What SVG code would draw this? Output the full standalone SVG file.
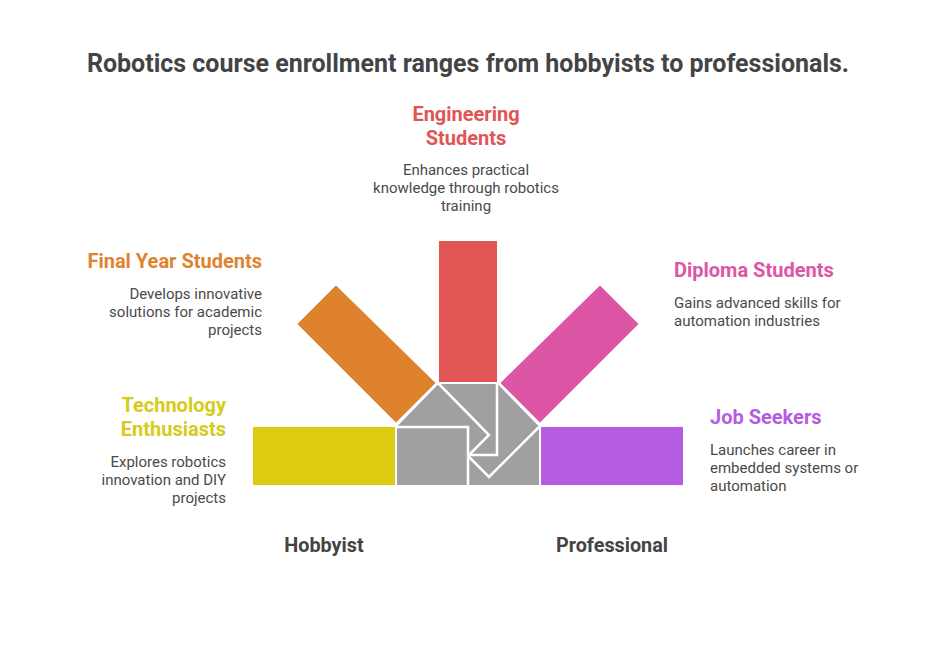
<svg xmlns="http://www.w3.org/2000/svg" width="936" height="648" viewBox="0 0 936 648">
<style>
.t{font-family:Roboto,"Liberation Sans",sans-serif;font-weight:700;fill:#444}
.h{font-family:Roboto,"Liberation Sans",sans-serif;font-weight:700;font-size:20px}
.d{font-family:Roboto,"Liberation Sans",sans-serif;font-size:15px;fill:#4a4a4a}
.s{stroke:#fff;stroke-width:2;stroke-linejoin:miter}
.ln{fill:none;stroke:#fff;stroke-width:2.5}
</style>
<rect width="936" height="648" fill="#fff"/>
<text class="t" x="468" y="72" font-size="25" text-anchor="middle">Robotics course enrollment ranges from hobbyists to professionals.</text>
<g id="hub">
<polygon class="s" fill="#a0a0a0" points="396,426 438,383 498,383 540,426 540,486 396,486"/>
<g id="connectors">
<polyline class="ln" points="396,427 468,427 468,486"/>
<polyline class="ln" points="497,383 497,455 469,455"/>
<polyline class="ln" points="438,383 489,435 468,456"/>
<polyline class="ln" points="540,426 489,477 468,456"/>
</g>
</g>
<g id="technology">
<rect class="s" x="252" y="426" width="144" height="60" fill="#ddcb12"/>
<text class="h" fill="#d6cb1c" text-anchor="end"><tspan x="226" y="412">Technology</tspan><tspan x="226" y="436">Enthusiasts</tspan></text>
<text class="d" text-anchor="end"><tspan x="226" y="467">Explores robotics</tspan><tspan x="226" y="485">innovation and DIY</tspan><tspan x="226" y="503">projects</tspan></text>
</g>
<g id="finalyear">
<polygon class="s" fill="#de822e" points="336,284 296,324 396,424 437,383"/>
<text class="h" fill="#de8431" text-anchor="end" x="262" y="268">Final Year Students</text>
<text class="d" text-anchor="end"><tspan x="262" y="299">Develops innovative</tspan><tspan x="262" y="317">solutions for academic</tspan><tspan x="262" y="335">projects</tspan></text>
</g>
<g id="engineering">
<rect class="s" x="438" y="240" width="60" height="143" fill="#e25555"/>
<text class="h" fill="#e05555" text-anchor="middle"><tspan x="466" y="121">Engineering</tspan><tspan x="466" y="145">Students</tspan></text>
<text class="d" text-anchor="middle"><tspan x="466" y="175">Enhances practical</tspan><tspan x="466" y="193">knowledge through robotics</tspan><tspan x="466" y="211">training</tspan></text>
</g>
<g id="diploma">
<polygon class="s" fill="#dd56a5" points="600,284 640,324 540,424 499,383"/>
<text class="h" fill="#dd55a5" x="674" y="277">Diploma Students</text>
<text class="d"><tspan x="674" y="308">Gains advanced skills for</tspan><tspan x="674" y="326">automation industries</tspan></text>
</g>
<g id="jobseekers">
<rect class="s" x="540" y="426" width="144" height="60" fill="#b55ce2"/>
<text class="h" fill="#b55ce0" x="710" y="424">Job Seekers</text>
<text class="d"><tspan x="710" y="455">Launches career in</tspan><tspan x="710" y="473">embedded systems or</tspan><tspan x="710" y="491">automation</tspan></text>
</g>
<text class="t" x="324" y="552" font-size="19.8" text-anchor="middle">Hobbyist</text>
<text class="t" x="612" y="552" font-size="19.8" text-anchor="middle">Professional</text>
</svg>
